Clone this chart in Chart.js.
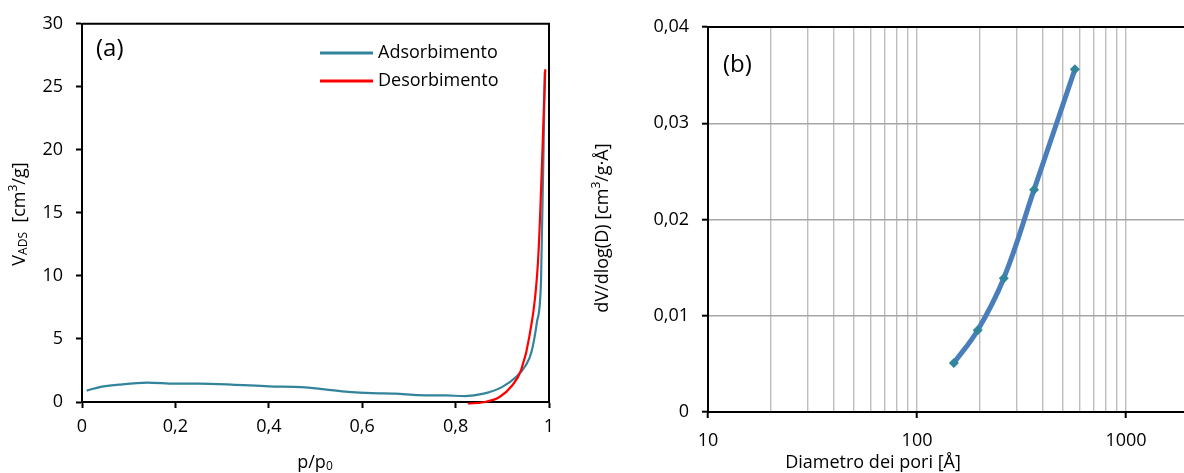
<!DOCTYPE html>
<html>
<head>
<meta charset="utf-8">
<script src="https://cdn.jsdelivr.net/npm/chart.js@4.4.0/dist/chart.umd.min.js"></script>
<style>
  html, body { margin: 0; padding: 0; background: #fff; overflow: hidden; width: 1184px; height: 473px; }
  .box { position: absolute; top: 0; height: 473px; }
  #wrapA { left: 0; width: 590px; }
  #wrapB { left: 590px; width: 604px; }
</style>
</head>
<body>
<div class="box" id="wrapA"><canvas id="isoChart"></canvas></div>
<div class="box" id="wrapB"><canvas id="poreChart"></canvas></div>
<script>
// (a) N2 isotherm: relative pressure and adsorbed volume [cm3/g]
const adsP = [0.01, 0.04, 0.08, 0.14, 0.20, 0.25, 0.32, 0.40, 0.47, 0.52, 0.57, 0.62, 0.67, 0.72, 0.78, 0.82, 0.86, 0.90, 0.93, 0.95, 0.962, 0.974, 0.983, 0.991];
const adsV = [0.90, 1.20, 1.38, 1.53, 1.45, 1.45, 1.38, 1.24, 1.18, 1.00, 0.80, 0.70, 0.67, 0.55, 0.52, 0.47, 0.66, 1.20, 2.00, 2.90, 3.90, 6.30, 9.70, 26.2];
const desP = [0.826, 0.86, 0.894, 0.922, 0.94, 0.958, 0.977, 0.992];
const desV = [-0.12, -0.02, 0.40, 1.35, 2.50, 5.20, 11.5, 26.4];

// (b) pore size distribution: diameter [Å] and dV/dlog(D)
const poreD = [150, 195, 260, 363, 569];
const poreDV = [0.0051, 0.0085, 0.0139, 0.0231, 0.0356];

// axis ticks
const isoXTicks = [0, 0.2, 0.4, 0.6, 0.8, 1];
const isoYTicks = [0, 5, 10, 15, 20, 25, 30];
const poreXGrid = [10, 20, 30, 40, 50, 60, 70, 80, 90, 100, 200, 300, 400, 500, 600, 700, 800, 900, 1000];
const poreXLabels = [10, 100, 1000];
const poreYTicks = [0, 0.01, 0.02, 0.03, 0.04];

const FONT = '"Open Sans", sans-serif';
const TICK_SIZE = 18;
const comma = v => (Math.round(v * 100) / 100).toString().replace('.', ',');

// draw a run of text pieces (with sub/superscripts), centred at (x, y)
function drawRich(ctx, x, y, parts, angle) {
  ctx.save();
  ctx.translate(x, y);
  if (angle) ctx.rotate(angle);
  ctx.fillStyle = '#000';
  ctx.textBaseline = 'middle';
  ctx.textAlign = 'left';
  let w = 0;
  parts.forEach(p => { ctx.font = (p.s || TICK_SIZE) + 'px ' + FONT; p.w = ctx.measureText(p.t).width; w += p.w; });
  let cx = -w / 2;
  parts.forEach(p => { ctx.font = (p.s || TICK_SIZE) + 'px ' + FONT; ctx.fillText(p.t, cx, p.dy || 0); cx += p.w; });
  ctx.restore();
}

const isoDecor = {
  id: 'isoDecor',
  afterDraw(chart) {
    const { ctx, chartArea: a } = chart;
    ctx.save();
    ctx.strokeStyle = '#000';
    ctx.lineWidth = 2;
    ctx.beginPath();
    ctx.moveTo(a.left, a.top); ctx.lineTo(a.right, a.top); ctx.lineTo(a.right, a.bottom);
    ctx.stroke();
    // legend
    chart.data.datasets.forEach((ds, i) => {
      const y = 53 + i * 28;
      ctx.strokeStyle = ds.borderColor;
      ctx.lineWidth = 3;
      ctx.beginPath(); ctx.moveTo(320, y); ctx.lineTo(373, y); ctx.stroke();
      ctx.fillStyle = '#000';
      ctx.font = TICK_SIZE + 'px ' + FONT;
      ctx.textBaseline = 'middle';
      ctx.fillText(ds.label, 378, y);
    });
    ctx.font = '24px ' + FONT;
    ctx.textBaseline = 'middle';
    ctx.fillText('(a)', 96, 49);
    ctx.restore();
    drawRich(ctx, 20, 214, [
      { t: 'V' }, { t: 'ADS', s: 12, dy: 4 }, { t: '  [cm' }, { t: '3', s: 12, dy: -6 }, { t: '/g]' }
    ], -Math.PI / 2);
    drawRich(ctx, 315, 463, [{ t: 'p/p' }, { t: '0', s: 12, dy: 4 }]);
  }
};

const poreDecor = {
  id: 'poreDecor',
  afterDraw(chart) {
    const { ctx, chartArea: a } = chart;
    ctx.save();
    ctx.strokeStyle = '#000';
    ctx.lineWidth = 2;
    ctx.beginPath(); ctx.moveTo(a.left - 1, a.top); ctx.lineTo(a.right, a.top); ctx.stroke();
    ctx.fillStyle = '#000';
    ctx.font = '24px ' + FONT;
    ctx.textBaseline = 'middle';
    ctx.fillText('(b)', 133, 65);
    ctx.restore();
    drawRich(ctx, 13, 228, [{ t: 'dV/dlog(D) [cm' }, { t: '3', s: 12, dy: -6 }, { t: '/g·Å]' }], -Math.PI / 2);
    drawRich(ctx, 283, 463, [{ t: 'Diametro dei pori [Å]' }]);
  }
};

new Chart(document.getElementById('isoChart'), {
  type: 'line',
  data: {
    datasets: [
      { label: 'Adsorbimento', data: adsP.map((p, i) => ({ x: p, y: adsV[i] })), borderColor: '#31849b', borderWidth: 2.2, pointRadius: 0, cubicInterpolationMode: 'monotone', order: 1 },
      { label: 'Desorbimento', data: desP.map((p, i) => ({ x: p, y: desV[i] })), borderColor: '#ff0000', borderWidth: 2.2, pointRadius: 0, cubicInterpolationMode: 'monotone', order: 0, clip: { left: 0, top: 0, right: 0, bottom: 4 } }
    ]
  },
  options: {
    responsive: true, maintainAspectRatio: false, animation: false,
    layout: { padding: { top: 23, right: 41, left: 0, bottom: 0 } },
    plugins: { legend: { display: false }, tooltip: { enabled: false } },
    scales: {
      x: {
        type: 'linear', min: 0, max: 1,
        afterBuildTicks: s => { s.ticks = isoXTicks.map(v => ({ value: v })); },
        afterFit: s => { s.height = 71; },
        ticks: { callback: v => comma(v), color: '#000', font: { family: FONT, size: TICK_SIZE }, padding: 8, maxRotation: 0, autoSkip: false },
        grid: { drawOnChartArea: false, tickLength: 6, tickWidth: 2, tickColor: '#000' },
        border: { color: '#000', width: 2 }
      },
      y: {
        min: 0, max: 30,
        afterBuildTicks: s => { s.ticks = isoYTicks.map(v => ({ value: v })); },
        afterFit: s => { s.width = 82; },
        ticks: { callback: v => comma(v), color: '#000', font: { family: FONT, size: TICK_SIZE }, padding: 13 },
        grid: { drawOnChartArea: false, tickLength: 6, tickWidth: 2, tickColor: '#000' },
        border: { color: '#000', width: 2 }
      }
    }
  },
  plugins: [isoDecor]
});

new Chart(document.getElementById('poreChart'), {
  type: 'line',
  data: {
    datasets: [{
      label: 'dV/dlog(D)',
      data: poreD.map((d, i) => ({ x: d, y: poreDV[i] })),
      borderColor: '#4a7ebb', borderWidth: 5, tension: 0.4,
      pointStyle: 'rectRot', pointRadius: 5, pointBackgroundColor: '#31859c', pointBorderColor: '#31859c', pointBorderWidth: 0
    }]
  },
  options: {
    responsive: true, maintainAspectRatio: false, animation: false,
    layout: { padding: { top: 27, right: 0, left: 0, bottom: 0 } },
    plugins: { legend: { display: false }, tooltip: { enabled: false } },
    scales: {
      x: {
        type: 'logarithmic', min: 10, max: 2000,
        afterBuildTicks: s => { s.ticks = poreXGrid.map(v => ({ value: v, major: poreXLabels.includes(v) })); },
        afterFit: s => { s.height = 61; },
        ticks: { callback: v => poreXLabels.includes(v) ? String(v) : '', color: '#000', font: { family: FONT, size: TICK_SIZE }, padding: 12, maxRotation: 0, autoSkip: false },
        grid: {
          color: c => (c.tick && c.tick.value === 10) ? 'rgba(0,0,0,0)' : '#bdbdbd',
          lineWidth: 1.4, tickLength: 6, tickWidth: 2,
          tickColor: c => (c.tick && poreXLabels.includes(c.tick.value)) ? '#000' : 'rgba(0,0,0,0)'
        },
        border: { color: '#000', width: 2 }
      },
      y: {
        min: 0, max: 0.04,
        afterBuildTicks: s => { s.ticks = poreYTicks.map(v => ({ value: v })); },
        afterFit: s => { s.width = 118; },
        ticks: { callback: v => comma(v), color: '#000', font: { family: FONT, size: TICK_SIZE }, padding: 13 },
        grid: {
          color: c => (c.tick && (c.tick.value === 0 || c.tick.value >= 0.04)) ? 'rgba(0,0,0,0)' : '#a6a6a6',
          lineWidth: 1.4, tickLength: 6, tickWidth: 2, tickColor: '#000'
        },
        border: { color: '#000', width: 2 }
      }
    }
  },
  plugins: [poreDecor]
});
</script>
</body>
</html>
